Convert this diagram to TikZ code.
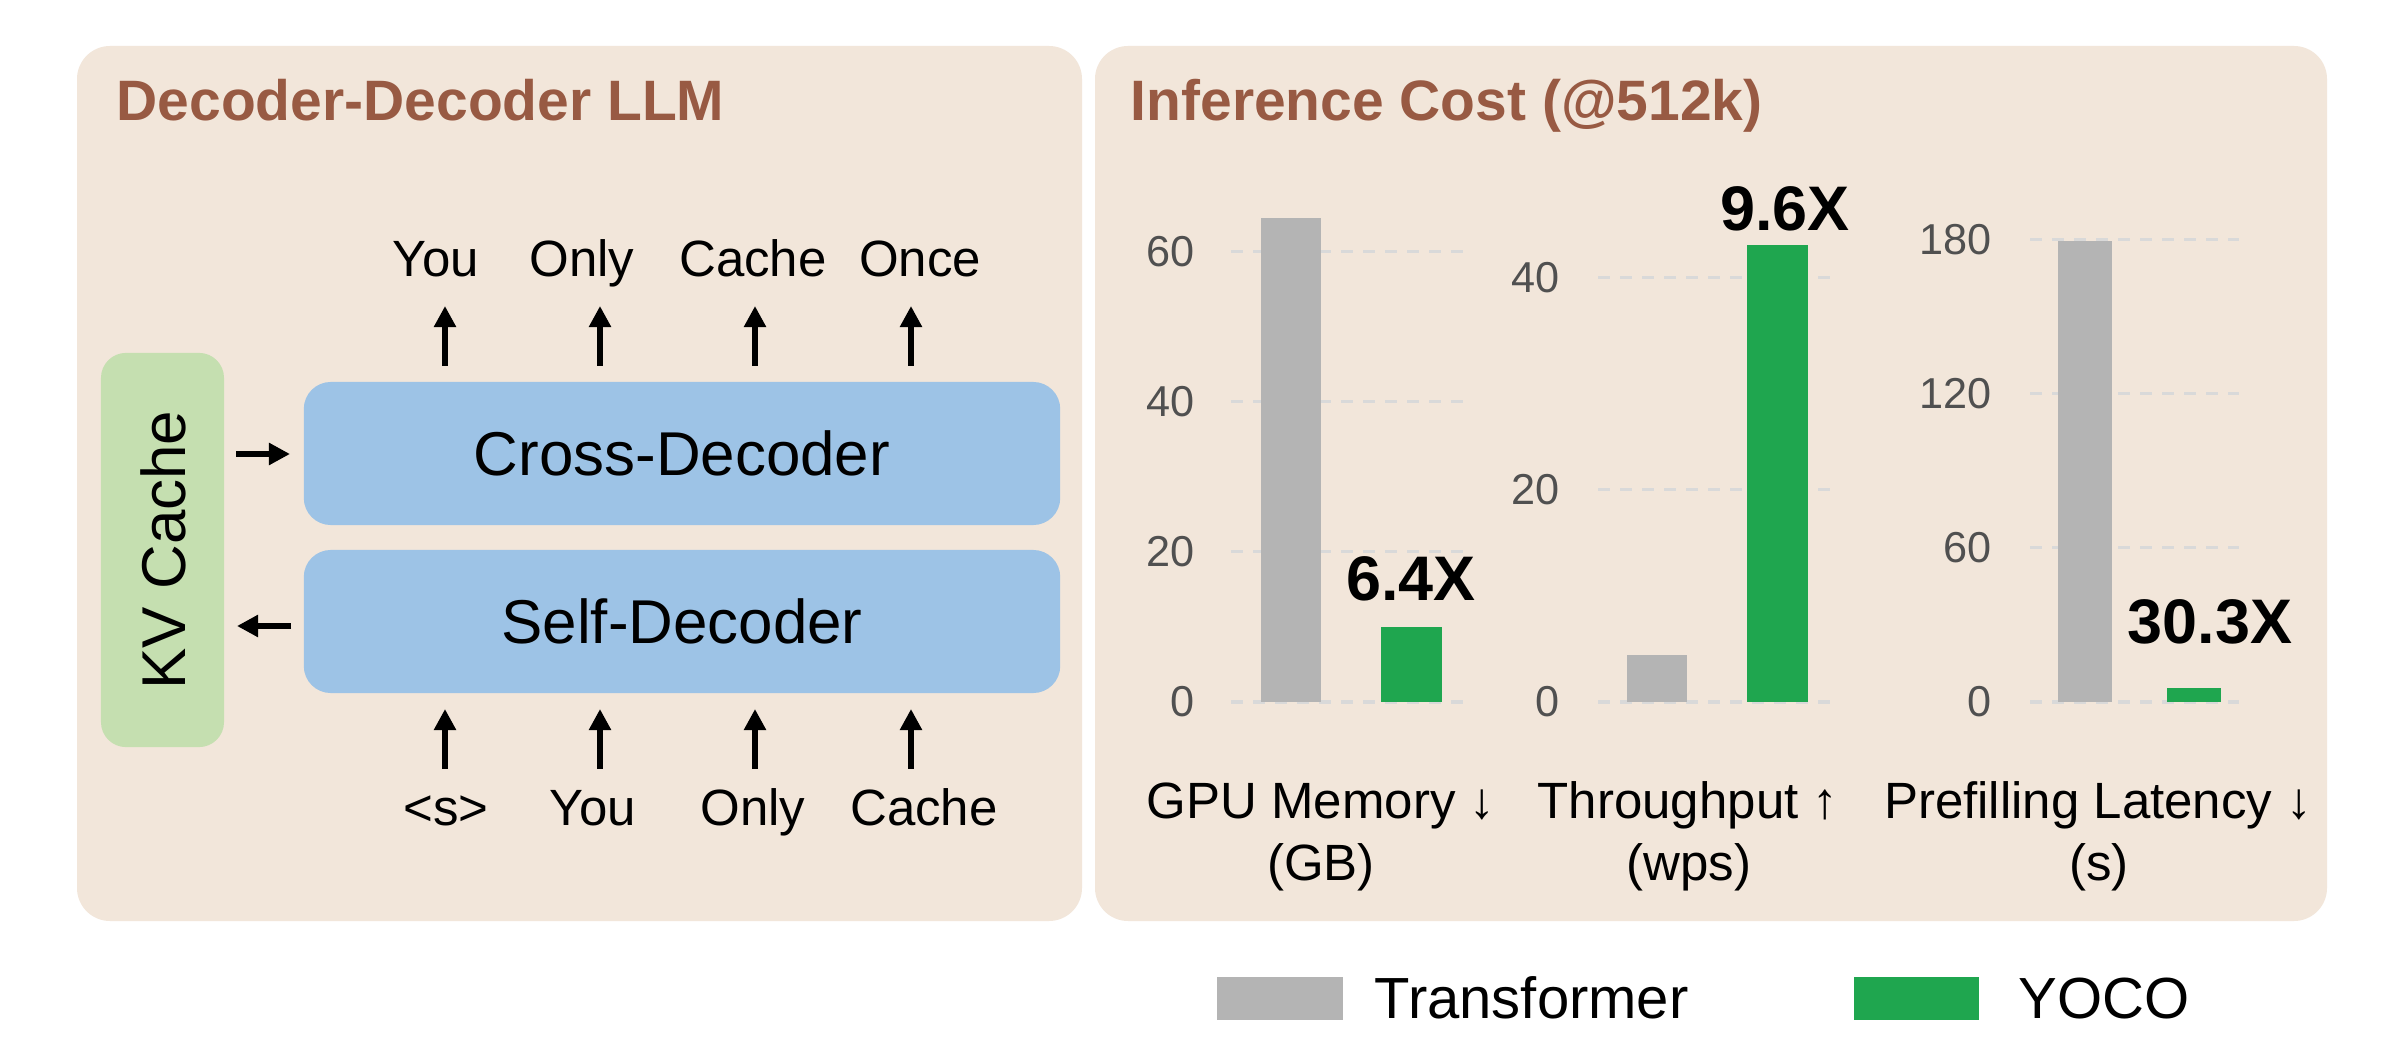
\documentclass[tikz,border=0pt]{standalone}
\usepackage{fontspec}
\setmainfont{Liberation Sans}
\usetikzlibrary{arrows.meta}
\definecolor{panelbg}{HTML}{F2E6DA}
\definecolor{titlebrown}{HTML}{985A43}
\definecolor{blockblue}{HTML}{9DC3E6}
\definecolor{kvgreen}{HTML}{C5DFB0}
\definecolor{bargray}{HTML}{B4B4B4}
\definecolor{bargreen}{HTML}{1FA64F}
\definecolor{gridgray}{HTML}{D9D9D9}
\definecolor{ticktext}{HTML}{505050}
\tikzset{
  panel/.style={fill=panelbg, rounded corners=0.33cm},
  paneltitle/.style={anchor=base west, inner sep=0, text=titlebrown, font=\fontsize{16.2pt}{19pt}\selectfont\bfseries},
  block/.style={fill=blockblue, rounded corners=0.27cm, minimum width=7.56cm, minimum height=1.43cm, inner sep=0, font=\fontsize{17.6pt}{20pt}\selectfont},
  kvbox/.style={fill=kvgreen, rounded corners=0.25cm, minimum width=1.23cm, minimum height=3.94cm, inner sep=0},
  word/.style={anchor=base, inner sep=0, font=\fontsize{14.5pt}{17pt}\selectfont},
  arr/.style={line width=0.06cm, -{Triangle[length=0.21cm, width=0.21cm]}},
  gridln/.style={gridgray, line width=0.03cm, dash pattern=on 0.12cm off 0.1cm},
  tick/.style={anchor=east, inner sep=0, text=ticktext, font=\fontsize{12.3pt}{14pt}\selectfont},
  factor/.style={anchor=base, inner sep=0, font=\fontsize{17.9pt}{20pt}\selectfont\bfseries},
  catlabel/.style={anchor=base, inner sep=0, font=\fontsize{14.5pt}{17pt}\selectfont},
  legtext/.style={anchor=base west, inner sep=0, font=\fontsize{16.5pt}{19pt}\selectfont},
}
\begin{document}
\begin{tikzpicture}[x=0.01cm, y=-0.01cm]
\useasboundingbox[fill=white] (0,0) rectangle (2408,1046);

% ---------- left panel ----------
\path[panel] (77,46) rectangle (1082,921);
\node[paneltitle] (ltitle) at (116,121) {Decoder-Decoder LLM};

\node[kvbox] (kv) at (162.5,550) {};
\node[rotate=90, inner sep=0, font=\fontsize{17.6pt}{20pt}\selectfont] (kvtext) at (163,550) {KV Cache};

\node[block] (cross) at (682,453.5) {Cross-Decoder};
\node[block] (self) at (682,621.5) {Self-Decoder};

% top words
\node[word] (o1) at (436,277) {You};
\node[word] (o2) at (582,277) {Only};
\node[word] (o3) at (753,277) {Cache};
\node[word] (o4) at (920,277) {Once};
% bottom words
\node[word] (i1) at (446,825) {<s>};
\node[word] (i2) at (593,825) {You};
\node[word] (i3) at (753,825) {Only};
\node[word] (i4) at (924,825) {Cache};

% arrow coordinates
\foreach \n/\x in {1/445,2/600,3/755,4/911}{
  \coordinate (ts\n) at (\x,366);
  \coordinate (te\n) at (\x,306);
  \coordinate (bs\n) at (\x,769);
  \coordinate (be\n) at (\x,709);
}
\foreach \n in {1,2,3,4}{
  \draw[arr] (ts\n) -- (te\n);
  \draw[arr] (bs\n) -- (be\n);
}
\coordinate (kvin1) at (236,454);
\coordinate (kvin2) at (290,454);
\coordinate (kvout1) at (291,626);
\coordinate (kvout2) at (237,626);
\draw[arr] (kvin1) -- (kvin2);
\draw[arr] (kvout1) -- (kvout2);

% ---------- right panel ----------
\path[panel] (1095,46) rectangle (2327,921);
\node[paneltitle] (rtitle) at (1130,121) {Inference Cost (@512k)};

% chart 1: GPU memory (7.5 px per unit)
\foreach \v in {0,20,40,60}{
  \draw[gridln] (1231,{702-7.5*\v}) -- (1468,{702-7.5*\v});
  \node[tick] at (1195,{702-7.5*\v}) {\v};
}
\fill[bargray] (1261,702) rectangle (1321,218);
\fill[bargreen] (1381,702) rectangle (1442,627);
\node[factor] (f1) at (1411,601) {6.4X};

% chart 2: throughput (10.6 px per unit)
\foreach \v in {0,20,40}{
  \draw[gridln] (1598,{702-10.6*\v}) -- (1833,{702-10.6*\v});
  \node[tick] at (1560,{702-10.6*\v}) {\v};
}
\fill[bargray] (1627,702) rectangle (1687,655);
\fill[bargreen] (1747,702) rectangle (1808,245);
\node[factor] (f2) at (1785,231) {9.6X};

% chart 3: prefilling latency (2.567 px per unit)
\foreach \v in {0,60,120,180}{
  \draw[gridln] (2030,{702-2.567*\v}) -- (2239,{702-2.567*\v});
  \node[tick] at (1992,{702-2.567*\v}) {\v};
}
\fill[bargray] (2058,702) rectangle (2112,241);
\fill[bargreen] (2167,702) rectangle (2221,688);
\node[factor] (f3) at (2210,643) {30.3X};

% category labels
\node[catlabel] (c1a) at (1321,818) {GPU Memory ↓};
\node[catlabel] (c1b) at (1321,880) {(GB)};
\node[catlabel] (c2a) at (1688,818) {Throughput ↑};
\node[catlabel] (c2b) at (1689,880) {(wps)};
\node[catlabel] (c3a) at (2098,818) {Prefilling Latency ↓};
\node[catlabel] (c3b) at (2099,880) {(s)};

% legend
\fill[bargray] (1217,977) rectangle (1343,1020);
\node[legtext] (l1) at (1374,1018) {Transformer};
\fill[bargreen] (1854,977) rectangle (1979,1020);
\node[legtext] (l2) at (2018,1018) {YOCO};
\end{tikzpicture}
\end{document}
